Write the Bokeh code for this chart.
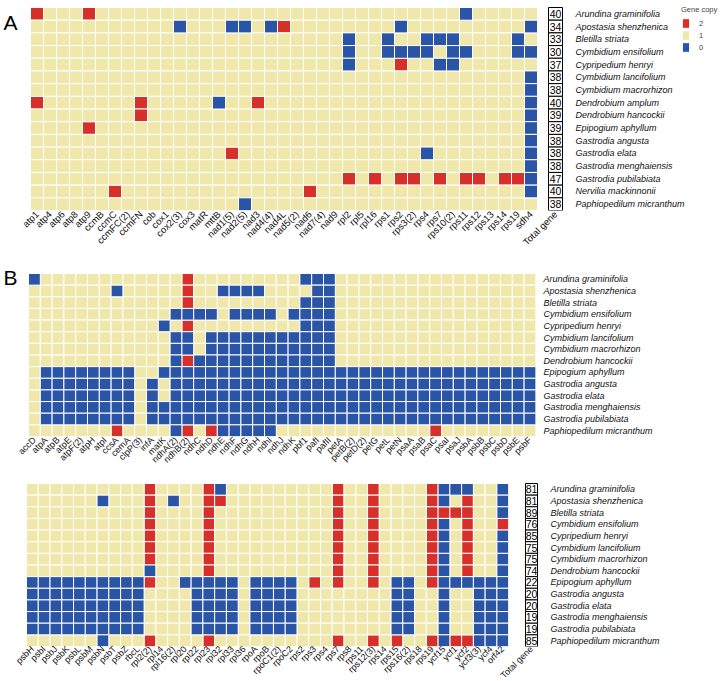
import math
from bokeh.plotting import figure
from bokeh.models import (Range1d, FixedTicker, ColumnDataSource, Legend,
                          LegendItem)
from bokeh.layouts import column
from bokeh.embed import file_html
from bokeh.resources import INLINE
from bokeh.core.properties import value

# ---------------- data ----------------
COLORS = {2: "#D7302A", 1: "#F0E7AB", 0: "#2A54A6"}

A_GENES = ["atp1", "atp4", "atp6", "atp8", "atp9", "ccmB", "ccmC", "ccmFC(2)",
           "ccmFN", "cob", "cox1", "cox2(3)", "cox3", "matR", "mttB", "nad1(5)",
           "nad2(5)", "nad3", "nad4(4)", "nad4L", "nad5(2)", "nad6", "nad7(4)",
           "nad9", "rpl2", "rpl5", "rpl16", "rps1", "rps2", "rps3(2)", "rps4",
           "rps7", "rps10(2)", "rps11", "rps12", "rps13", "rps14", "rps19", "sdh4"]
A_SPECIES = ["Arundina graminifolia", "Apostasia shenzhenica", "Bletilla striata",
             "Cymbidium ensifolium", "Cypripedium henryi", "Cymbidium lancifolium",
             "Cymbidium macrorhizon", "Dendrobium amplum", "Dendrobium hancockii",
             "Epipogium aphyllum", "Gastrodia angusta", "Gastrodia elata",
             "Gastrodia menghaiensis", "Gastrodia pubilabiata", "Nervilia mackinnonii",
             "Paphiopedilum micranthum"]
A_ROWS = [
    "2111211111 1111111111 1111111111 111011111",
    "1111111111 1011100102 1111111101 111111110",
    "1111111111 1111111111 1111011011 000111101",
    "1111111111 1111111111 1111011000 010011100",
    "1111111111 1111111111 1111011121 100111111",
    "1111111111 1111111111 1111111111 111111110",
    "1111111111 1111111111 1111111111 111111110",
    "2111111121 1111011211 1111111111 111111110",
    "1111111121 1111111111 1111111111 111111110",
    "1111211111 1111111111 1111111111 111111110",
    "1111111111 1111111111 1111111111 111111110",
    "1111111111 1111121111 1111111111 011111110",
    "1111111111 1111111111 1111111111 111111110",
    "1111111111 1111111111 1111212122 121221220",
    "1111112111 1111111111 1211111111 111111110",
    "1111111111 1111110111 1111111111 111111111",
]
A_TOTAL = [40, 34, 33, 30, 37, 38, 38, 40, 39, 39, 38, 38, 38, 47, 40, 38]

B_SPECIES = ["Arundina graminifolia", "Apostasia shenzhenica", "Bletilla striata",
             "Cymbidium ensifolium", "Cypripedium henryi", "Cymbidium lancifolium",
             "Cymbidium macrorhizon", "Dendrobium hancockii", "Epipogium aphyllum",
             "Gastrodia angusta", "Gastrodia elata", "Gastrodia menghaiensis",
             "Gastrodia pubilabiata", "Paphiopedilum micranthum"]

B1_GENES = ["accD", "atpA", "atpB", "atpE", "atpF(2)", "atpH", "atpI", "ccsA",
            "cemA", "clpP(3)", "infA", "matK", "ndhA(2)", "ndhB(2)", "ndhC",
            "ndhD", "ndhE", "ndhF", "ndhG", "ndhH", "ndhI", "ndhJ", "ndhK",
            "pbf1", "pafI", "pafII", "petA", "petB(2)", "petD(2)", "petG", "petL",
            "petN", "psaA", "psaB", "psaC", "psaI", "psaJ", "psbA", "psbB", "psbC",
            "psbD", "psbE", "psbF"]
B1_ROWS = [
    "0111111111 1112111111 1110001111 1111111111 111",
    "1111111011 1112110000 1111001111 1111111111 111",
    "1111111111 1112111111 1110001111 1111111111 111",
    "1111111111 1100001000 0100001111 1111111111 111",
    "1111111111 1012111111 1110001111 1111111111 111",
    "1111111111 1100100000 0000001111 1111111111 111",
    "1111111111 1100100000 0000001111 1111111111 111",
    "1111111111 1102000000 0000001111 1111111111 111",
    "1000000001 1000000000 0000000000 0000000000 000",
    "1000000001 0100000000 0000000000 0000000000 000",
    "1000000001 0100000000 0000000000 0000000000 000",
    "1000000001 0000000000 0000000000 0000000000 000",
    "1000000001 0000000000 0000000000 0000000000 000",
    "1111111211 1102120000 0111111111 1111211111 111",
]

B2_GENES = ["psbH", "psbI", "psbJ", "psbK", "psbL", "psbM", "psbN", "psbT", "psbZ",
            "rbcL", "rpl2(2)", "rpl14", "rpl16(2)", "rpl20", "rpl22", "rpl23",
            "rpl32", "rpl33", "rpl36", "rpoA", "rpoB", "rpoC1(2)", "rpoC2", "rps2",
            "rps3", "rps4", "rps7", "rps8", "rps11", "rps12(3)", "rps14", "rps15",
            "rps16(2)", "rps18", "rps19", "ycf15", "ycf1", "ycf2", "ycf3(3)",
            "ycf4", "orf42"]
B2_ROWS = [
    "1111111111 2111120111 1111112112 11112000110",
    "1111110111 2101122111 1111112112 11112012110",
    "1111111111 2111121111 1111112112 11112222110",
    "1111111111 2111121111 1111112112 11112012112",
    "1111111111 2111121111 1111112112 11112012110",
    "1111111111 2111121111 1111112112 11112012110",
    "1111111111 2111121111 1111112112 11112012110",
    "1111111111 0111121111 1111112112 11112012110",
    "0000000000 2110000010 0001212112 10012000000",
    "0000000000 1111000010 0001111111 10011011000",
    "0000000000 1111000010 0001111111 10011011000",
    "0000000000 1111000010 0001111111 10011011000",
    "0000000000 1111000010 0001111111 10011011000",
    "1111110111 2111121111 1111112112 12112022000",
]
B2_TOTAL = [81, 81, 89, 76, 85, 75, 75, 74, 22, 20, 20, 19, 19, 85]

FONT = "Liberation Sans"
W = 724


def parse(rows, n):
    out = [[int(c) for c in r.replace(" ", "")] for r in rows]
    for row in out:
        assert len(row) == n, (len(row), n)
    return out


def panel(genes, species, rows, totals, T, grid_h, B, L, cell_w, label_px,
          total_px=None, total_w_px=None, letter=None, letter_base=20,
          tick_size="9.5px", sp_size="9px", standoff=2, legend=False):
    ncol, nrow = len(genes), len(species)
    mat = parse(rows, ncol)
    cell_h = grid_h / nrow
    frame_h = T + grid_h
    y_end = nrow + T / cell_h
    p = figure(frame_width=W, frame_height=int(round(frame_h)),
               x_range=Range1d(-L / cell_w, (W - L) / cell_w),
               y_range=Range1d(0, y_end),
               output_backend="svg", toolbar_location=None,
               y_axis_location=None, title=None,
               min_border=0, min_border_left=0, min_border_right=0,
               min_border_top=0, min_border_bottom=B)
    p.grid.visible = False
    p.outline_line_color = None
    p.background_fill_color = "white"
    p.border_fill_color = "white"

    rends = {}
    for v in (2, 1, 0):
        xs, ys = [], []
        for r in range(nrow):
            for i in range(ncol):
                if mat[r][i] == v:
                    xs.append(i + 0.5)
                    ys.append(nrow - r - 0.5)
        src = ColumnDataSource(dict(x=xs, y=ys))
        rends[v] = p.rect(x="x", y="y", width=1, height=1, source=src,
                          fill_color=COLORS[v], line_color="white", line_width=1)

    row_y = [nrow - r - 0.5 for r in range(nrow)]
    xticks = [i + 0.5 for i in range(ncol)]
    xlabels = {i + 0.5: g for i, g in enumerate(genes)}
    if totals is not None:
        tx = round((total_px - L) / cell_w, 3)
        tw = total_w_px / cell_w
        tsrc = ColumnDataSource(dict(x=[tx] * nrow, y=row_y,
                                     t=[str(t) for t in totals]))
        p.rect(x="x", y="y", width=tw, height=1, source=tsrc,
               fill_color="white", line_color="black", line_width=1)
        p.text(x="x", y="y", text="t", source=tsrc, text_align="center",
               text_baseline="middle", text_font=value(FONT),
               text_font_size="10.5px", text_color="black")
        xticks.append(tx)
        xlabels[tx] = "Total gene"

    # species names
    ssrc = ColumnDataSource(dict(x=[(label_px - L) / cell_w] * nrow, y=row_y,
                                 s=species))
    p.text(x="x", y="y", text="s", source=ssrc, text_align="left",
           text_baseline="middle", text_font=value(FONT),
           text_font_style="italic", text_font_size=sp_size,
           text_color="#111111")

    xa = p.xaxis[0]
    xa.ticker = FixedTicker(ticks=xticks)
    xa.major_label_overrides = xlabels
    xa.major_label_orientation = math.pi / 4
    xa.major_label_standoff = standoff
    xa.major_label_text_font_size = tick_size
    xa.axis_line_color = None
    xa.major_tick_line_color = None
    xa.minor_tick_line_color = None
    xa.major_tick_out = 0
    xa.major_tick_in = 0
    xa.minor_tick_out = 0
    xa.major_label_text_font = FONT
    xa.major_label_text_color = "#111111"

    if letter:
        p.text(x=[(3 - L) / cell_w], y=[y_end - letter_base / cell_h],
               text=[letter], text_font=value(FONT), text_font_style="normal",
               text_font_size="21px", text_baseline="alphabetic",
               text_align="left", text_color="black")
    if legend:
        lg = Legend(items=[LegendItem(label="2", renderers=[rends[2]]),
                           LegendItem(label="1", renderers=[rends[1]]),
                           LegendItem(label="0", renderers=[rends[0]])],
                    title="Gene copy", location="top_right")
        lg.title_text_font = FONT
        lg.title_text_font_size = "7.5px"
        lg.title_text_font_style = "normal"
        lg.title_standoff = 3
        lg.label_text_font = FONT
        lg.label_text_font_size = "7.5px"
        lg.glyph_width = 9
        lg.glyph_height = 12
        lg.spacing = 0
        lg.label_standoff = 9
        lg.label_height = 12
        lg.padding = 0
        lg.margin = 5
        lg.border_line_color = None
        lg.background_fill_alpha = 0
        p.add_layout(lg, "center")
    return p


pA = panel(A_GENES, A_SPECIES, A_ROWS, A_TOTAL, T=7, grid_h=203, B=48, L=30,
           cell_w=13.0, label_px=575, total_px=555, total_w_px=14, letter="A",
           letter_base=22, tick_size="9.5px", sp_size="9px", legend=True)
pB1 = panel(B1_GENES, B_SPECIES, B1_ROWS, None, T=15, grid_h=163, B=32, L=28,
            cell_w=11.8, label_px=543, letter="B", letter_base=19,
            tick_size="9px", sp_size="9px")
pB2 = panel(B2_GENES, B_SPECIES, B2_ROWS, B2_TOTAL, T=12, grid_h=163, B=38,
            L=26, cell_w=11.76, label_px=550, total_px=531, total_w_px=12,
            tick_size="9px", sp_size="9px", standoff=1)

layout = column(pA, pB1, pB2)
open("out.html", "w").write(file_html(layout, INLINE))
